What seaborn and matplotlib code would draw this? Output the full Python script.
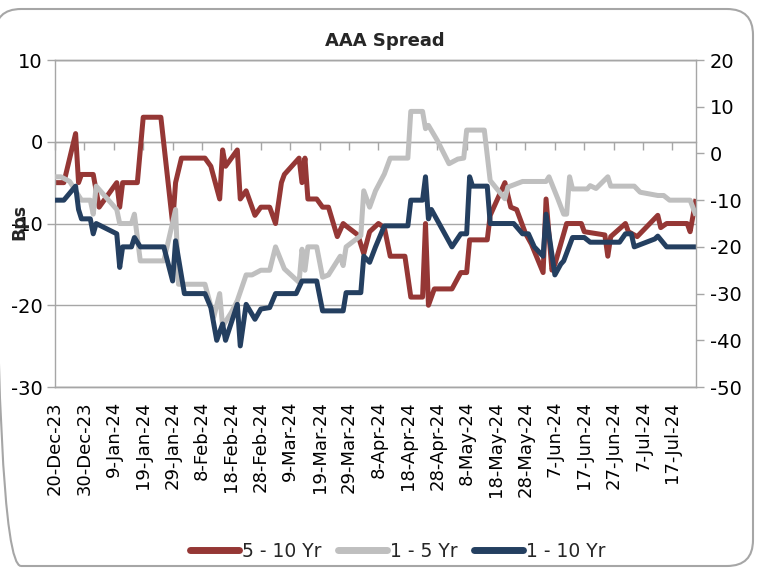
import matplotlib
matplotlib.use("Agg")
import matplotlib.pyplot as plt
from matplotlib.patches import FancyBboxPatch
from matplotlib.lines import Line2D
import seaborn as sns
import pandas as pd

# ---- data -------------------------------------------------------------
start = pd.Timestamp("2023-12-20")

# 5 - 10 Yr spread (left axis, bps); days counted from 20-Dec-23
red_days = [0, 3, 7, 8, 9, 13, 15, 21, 22, 23, 28, 30, 36, 40, 41, 43, 51, 53,
            56, 57, 58, 62, 63, 65, 68, 70, 73, 75, 77, 78, 83, 84, 85, 86, 89,
            91, 93, 96, 98, 99, 103, 105, 107, 110, 112, 114, 119, 121, 125,
            126, 127, 129, 135, 138, 140, 141, 147, 148, 153, 155, 157, 160,
            162, 166, 167, 169, 170, 174, 179, 180, 187, 188, 189, 194, 195,
            198, 205, 206, 208, 215, 216, 218]
red_vals = [-5, -5, 1, -5, -4, -4, -8, -5, -8, -5, -5, 3, 3, -10, -5, -2, -2, -3,
            -7, -1, -3, -1, -7, -6, -9, -8, -8, -10, -5, -4, -2, -5, -2, -7, -7,
            -8, -8, -11.6, -10, -10.3, -11.4, -13.7, -11, -10, -10.5, -14, -14,
            -19, -19, -10, -20, -18, -18, -16, -16, -12, -12, -9, -5, -8, -8.3,
            -11.2, -12.5, -16, -7, -15.7, -15, -10, -10, -11, -11.4, -14, -11.6,
            -10, -11, -11.6, -9, -10.5, -10, -10, -11, -7]

# 1 - 5 Yr spread (right axis, bps)
grey_days = [0, 2, 5, 9, 12, 13, 14, 21, 22, 26, 27, 29, 37, 41, 42, 51, 54, 56,
             57, 60, 62, 65, 67, 70, 73, 75, 78, 83, 84, 85, 86, 89, 91, 93, 97,
             98, 99, 104, 105, 107, 109, 112, 114, 120, 121, 125, 126, 127, 130,
             134, 137, 139, 140, 146, 148, 153, 154, 159, 167, 168, 171, 173,
             174, 175, 176, 181, 182, 184, 188, 189, 197, 199, 205, 207, 209,
             216, 218]
grey_vals = [-5, -5, -6, -10, -10, -13, -7, -12, -15, -15, -13, -23, -23, -12,
             -28, -28, -35, -30, -37, -34, -31.5, -26, -26, -25, -25, -20,
             -24.7, -27.6, -20.5, -25, -20, -20, -26.5, -26, -22, -24, -20,
             -17.6, -8, -11.5, -8, -4.4, -1, -1, 9, 9, 5.3, 6, 2.8, -2.2, -1.2,
             -1, 5, 5, -5.8, -9.7, -7.2, -6, -6, -5, -9.7, -13, -13, -5, -7.6,
             -7.6, -6.9, -7.5, -5, -7, -7, -8.3, -9, -9, -10, -10, -13.3]

# 1 - 10 Yr spread (right axis, bps)
blue_days = [0, 3, 7, 8, 9, 12, 13, 14, 21, 22, 23, 26, 27, 29, 37, 40, 41, 44,
             51, 53, 55, 57, 58, 62, 63, 65, 68, 70, 73, 75, 82, 84, 89, 91, 98,
             99, 104, 105, 107, 109, 112, 120, 121, 125, 126, 127, 128, 135, 138,
             140, 141, 142, 147, 148, 156, 159, 161, 163, 166, 167, 170, 172,
             173, 176, 180, 182, 192, 194, 196, 197, 204, 205, 208, 218]
blue_vals = [-10, -10, -7, -12, -14, -14, -17.2, -15, -17.2, -24.4, -20, -20,
             -18, -20, -20, -27.3, -18.7, -30, -30, -33, -40, -36.5, -40, -32.3,
             -41.2, -32.3, -35.5, -33.3, -33, -30, -30, -27.3, -27.3, -33.7,
             -33.7, -29.8, -29.8, -22, -23.3, -20, -15.5, -15.5, -10, -10, -5,
             -14, -12, -20, -17.2, -17.2, -5, -7, -7, -15, -15, -17.2, -17.2,
             -20, -22, -13, -26, -23.7, -23, -18, -18, -19, -19, -17.2, -17.2,
             -20, -18.3, -17.7, -20, -20]

series_names = ["5 - 10 Yr", "1 - 5 Yr", "1 - 10 Yr"]
series_colors = ["#953735", "#BFBFBF", "#243F60"]
tick_dates = pd.date_range(start, periods=22, freq="10D")


def frame(days, vals):
    return pd.DataFrame({"date": start + pd.to_timedelta(days, unit="D"),
                         "bps": vals})


red_df = frame(red_days, red_vals)
grey_df = frame(grey_days, grey_vals)
blue_df = frame(blue_days, blue_vals)

# ---- figure -----------------------------------------------------------
sns.set_theme(style="white")
plt.rcParams["font.family"] = ["DejaVu Sans"]
plt.rcParams["axes.unicode_minus"] = False

fig = plt.figure(figsize=(7.62, 5.71), dpi=100)
ax = fig.add_axes([0.0722, 0.3222, 0.8412, 0.5727])
ax2 = ax.twinx()

grid_c = "#A6A6A6"
lw = 3.6
line_kw = dict(linewidth=lw, solid_joinstyle="round", solid_capstyle="butt")

sns.lineplot(data=red_df, x="date", y="bps", ax=ax, color=series_colors[0],
             **line_kw)
sns.lineplot(data=grey_df, x="date", y="bps", ax=ax2, color=series_colors[1],
             **line_kw)
sns.lineplot(data=blue_df, x="date", y="bps", ax=ax2, color=series_colors[2],
             **line_kw)

x0, x1 = start, start + pd.Timedelta(days=218)
ax.set_xlim(x0, x1)
ax.set_ylim(-30, 10)
ax2.set_ylim(-50, 20)
ax.set_yticks([10, 0, -10, -20, -30])
ax2.set_yticks([20, 10, 0, -10, -20, -30, -40, -50])

ax.yaxis.grid(True, color=grid_c, linewidth=1.0)
ax.set_axisbelow(True)
for a in (ax, ax2):
    for s in a.spines.values():
        s.set_color(grid_c)
        s.set_linewidth(1.0)
ax2.spines["left"].set_visible(False)
ax.spines["right"].set_visible(False)

ax.tick_params(axis="y", direction="out", length=6, width=1, color=grid_c,
               labelsize=14, pad=3, left=True, labelcolor="black")
ax2.tick_params(axis="y", direction="out", length=6, width=1, color=grid_c,
                labelsize=14, pad=4, right=True, labelcolor="black")

# date labels along the bottom edge
ax.set_xticks(tick_dates)
ax.set_xticklabels([f"{d.day}-{d.strftime('%b-%y')}" for d in tick_dates],
                   rotation=90, fontsize=13)
ax.tick_params(axis="x", length=0, pad=10, labelcolor="black")
ax.set_xlabel("")
ax.set_ylabel("")
ax2.set_ylabel("")

# category axis line crosses at 0 with ticks hanging below it
cross = ax.secondary_xaxis(0.75)
cross.set_xticks(tick_dates)
cross.tick_params(axis="x", direction="in", length=6, width=1, color=grid_c,
                  labeltop=False, labelbottom=False)
cross.spines["top"].set_color(grid_c)
cross.spines["top"].set_linewidth(1.0)

fig.text(385 / 762, 1 - 41 / 571, "AAA Spread", fontsize=13,
         fontweight="bold", ha="center", va="center")
fig.text(0.025, 0.612, "Bps", rotation=90, fontsize=12.5, fontweight="bold",
         ha="center", va="center")

handles = [Line2D([], [], color=c, linewidth=5) for c in series_colors]
fig.legend(handles, series_names, loc="center", bbox_to_anchor=(0.522, 0.035),
           ncol=3, frameon=False, fontsize=13.5, handlelength=2.6,
           handletextpad=0.15, columnspacing=0.9)

border = FancyBboxPatch((-0.05, 0.05), 7.58, 5.57,
                        boxstyle="round,pad=0,rounding_size=0.26",
                        transform=fig.dpi_scale_trans, facecolor="none",
                        edgecolor="#A6A6A6", linewidth=1.5, clip_on=False)
fig.patches.append(border)

fig.savefig("out.png", dpi=100)
